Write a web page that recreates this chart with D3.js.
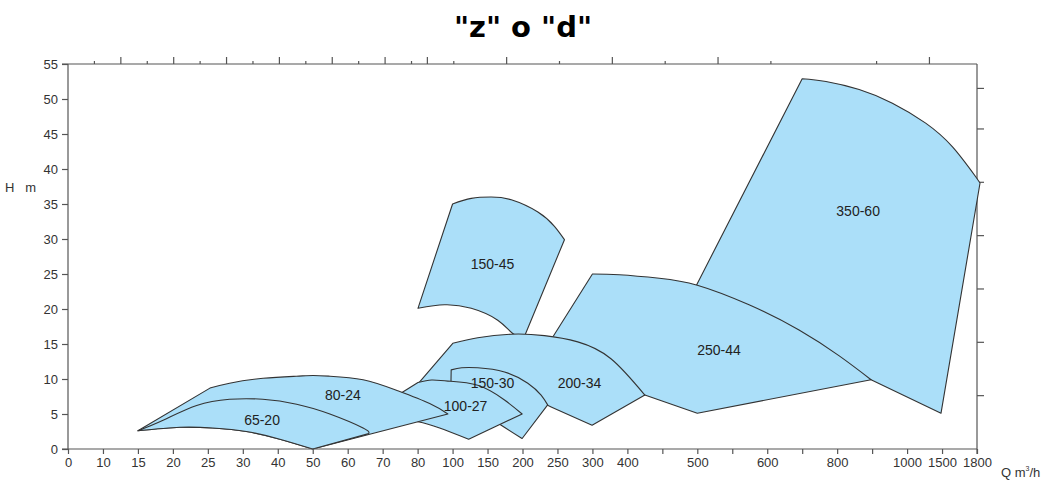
<!DOCTYPE html>
<html><head><meta charset="utf-8">
<script src="https://cdn.jsdelivr.net/npm/d3@7"></script>
<style>body{margin:0;background:#fff;}svg{display:block;}</style>
</head><body>
<svg id="chart" width="1047" height="480"></svg>
<script>
(function(){
// ---------- data ----------
const titleText = '"z" o "d"';
const xTickValues = [0,10,15,20,25,30,40,50,60,70,80,100,150,200,250,300,400,450,500,550,600,700,800,900,1000,1500,1800];
const xTickLabels = ["0","10","15","20","25","30","40","50","60","70","80","100","150","200","250","300","400","","500","","600","","800","","1000","1500","1800"];
const yTickValues = [0,5,10,15,20,25,30,35,40,45,50,55];
const topMinorTicks = [1,3,5,7,9,11,13,14.6,18.6,22.6,26.6,30.6];
const topMajorTicks = [2,4,6,8,10,12,13.6,16.6,20.6,24.6,32.6];
const rightTicksFt = [25,50,75,100,125,150,169];

// 65-20
const p6520Top = [[15,2.6],[18.6,4.1],[23.4,6.2],[28.1,7.1],[35.7,7.1],[45.4,6.4],[54.9,5.0],[64.4,3.0],[66,2.2]];
const p6520Right = [[66,2.2],[50,0]];
const p6520Bottom = [[50,0],[40.6,1.4],[31,2.5],[25.7,3.0],[21,3.1],[15,2.6]];
// 80-24
const p8024Left = [[15,2.6],[25.3,8.7]];
const p8024Top = [[25.3,8.7],[28.1,9.4],[35.8,10.1],[45.3,10.4],[50.1,10.5],[54.9,10.4],[64.4,9.9],[73.9,8.4],[86.9,6.5],[97.3,5.0]];
const p8024Right = [[97.3,5.0],[50,0]];
// 100-27
const p10027Left = [[72.6,4.4],[75.3,8.0],[80.2,9.5]];
const p10027Top = [[80.2,9.5],[88,9.85],[97.3,9.7],[136,9.1],[174.3,7.0],[199.5,5.0]];
const p10027Right = [[199.5,5.0],[123,1.4]];
const p10027Bottom = [[123,1.4],[92.6,3.0],[80.2,3.9],[72.6,4.4]];
// 150-30
const p15030Left = [[99,8.3],[99.2,11.3]];
const p15030Top = [[99.2,11.3],[113,11.6],[136,11.6],[174.3,11.0],[207.6,9.4],[226.6,7.7],[236,6.3]];
const p15030Right = [[236,6.3],[199.5,1.5]];
const p15030Bottom = [[199.5,1.5],[169.6,3.4],[140,5.4],[115,7.2],[99,8.3]];
// 200-34
const p20034Left = [[80.2,9.3],[100.3,15.1]];
const p20034Top = [[100.3,15.1],[136,15.9],[184,16.4],[231.4,16.2],[279,15.3],[353,12.9],[425,7.7]];
const p20034Right = [[425,7.7],[299.5,3.4]];
const p20034Bottom = [[299.5,3.4],[241,6.0],[203,7.7],[153,9.0],[98.3,8.7],[80.2,9.3]];
// 150-45
const p15045Left = [[80.2,20.1],[100,35.0]];
const p15045Top = [[100,35.0],[126.7,35.8],[155.3,36.0],[184,35.6],[222,33.85],[245.7,31.8],[260,29.9]];
const p15045Right = [[260,29.9],[202,15.9]];
const p15045Bottom = [[202,15.9],[186,16.5],[164.6,18.4],[126.7,20.1],[95.4,20.6],[80.2,20.1]];
// 250-44
const p25044Left = [[231.4,14.1],[300,25.0]];
const p25044Top = [[300,25.0],[377,24.9],[445.7,24.4],[500,23.4],[574,20.6],[691,17.0],[806,13.3],[897,9.9]];
const p25044Right = [[897,9.9],[500,5.1]];
const p25044Bottom = [[500,5.1],[425,7.7],[320,9.3],[231.4,14.1]];
// 350-60
const p35060Left = [[488,21.3],[700,52.9]];
const p35060Top = [[700,52.9],[768,52.5],[863,51.35],[958,49.4],[1266,46.55],[1588,43.2],[1789,38.9]];
const p35060Right = [[1789,38.9],[1826,38.0],[1485,5.1]];
const p35060Bottom = [[1485,5.1],[897,9.9],[574,15.6],[488,21.3]];

const pumpNames = ["350-60","250-44","150-45","200-34","150-30","100-27","80-24","65-20"];
const pumpLabelPos = [[860,34],[531,14.1],[157,26.4],[281.5,9.4],[157,9.4],[118.6,6.1],[58.6,7.7],[35.5,4.1]];

// ---------- layout ----------
const mL = 68, mR = 977, mT = 64, mB = 449;
const svg = d3.select("#chart");

const x = d3.scaleLinear()
  .domain(xTickValues)
  .range(xTickValues.map((d,i) => mL + i*(mR-mL)/(xTickValues.length-1)));
const y = d3.scaleLinear().domain([0,55]).range([mB, mT]);
const xTop = d3.scaleLinear().domain([0,34.4]).range([mL, mR]);
const yRight = d3.scaleLinear().domain([0,55/0.3048]).range([mB, mT]);

const pumpEdges = [
  [[p35060Left,0],[p35060Top,1],[p35060Right,0],[p35060Bottom,0]],
  [[p25044Left,0],[p25044Top,1],[p25044Right,0],[p25044Bottom,0]],
  [[p15045Left,0],[p15045Top,1],[p15045Right,0],[p15045Bottom,1]],
  [[p20034Left,0],[p20034Top,1],[p20034Right,0],[p20034Bottom,1]],
  [[p15030Left,0],[p15030Top,1],[p15030Right,0],[p15030Bottom,1]],
  [[p10027Left,0],[p10027Top,1],[p10027Right,0],[p10027Bottom,1]],
  [[p8024Left,0],[p8024Top,1],[p8024Right,0],[p6520Bottom,1]],
  [[p6520Top,1],[p6520Right,0],[p6520Bottom,1]]
];

function shapePath(edges){
  let d = "";
  edges.forEach(([pts, curved], i) => {
    const gen = d3.line().x(p => x(p[0])).y(p => y(p[1]))
      .curve(curved ? d3.curveNatural : d3.curveLinear);
    let s = gen(pts);
    if (i > 0) s = "L" + s.slice(1);
    d += s;
  });
  return d + "Z";
}

const axisColor = "#555";
const font = "'Liberation Sans', Arial, sans-serif";

// frame (top & right)
svg.append("line").attr("x1", mL-6).attr("x2", mR).attr("y1", mT).attr("y2", mT)
  .attr("stroke", axisColor).attr("stroke-width", 1.2);
svg.append("line").attr("x1", mR).attr("x2", mR).attr("y1", mT).attr("y2", mB + 5)
  .attr("stroke", axisColor).attr("stroke-width", 1.2);

// top ticks
svg.append("g").selectAll("line").data(topMinorTicks).join("line")
  .attr("x1", d => xTop(d)).attr("x2", d => xTop(d)).attr("y1", mT).attr("y2", mT-3)
  .attr("stroke", axisColor).attr("stroke-width", 1.2);
svg.append("g").selectAll("line").data(topMajorTicks).join("line")
  .attr("x1", d => xTop(d)).attr("x2", d => xTop(d)).attr("y1", mT).attr("y2", mT-7)
  .attr("stroke", axisColor).attr("stroke-width", 1.2);
// right ticks (ft)
svg.append("g").selectAll("line").data(rightTicksFt).join("line")
  .attr("x1", mR).attr("x2", mR+7).attr("y1", d => yRight(d)).attr("y2", d => yRight(d))
  .attr("stroke", axisColor).attr("stroke-width", 1.2);

// pumps
svg.append("g").selectAll("path").data(pumpEdges).join("path")
  .attr("d", shapePath)
  .attr("fill", "#abdff9")
  .attr("stroke", "#333")
  .attr("stroke-width", 1.1)
  .attr("stroke-linejoin", "round");

// labels
svg.append("g").selectAll("text").data(pumpNames).join("text")
  .attr("x", (d,i) => x(pumpLabelPos[i][0]))
  .attr("y", (d,i) => y(pumpLabelPos[i][1]))
  .attr("text-anchor", "middle").attr("dominant-baseline", "central")
  .attr("font-family", font).attr("font-size", 14).attr("fill", "#222")
  .text(d => d);

// axes
const xAxis = d3.axisBottom(x).tickValues(xTickValues)
  .tickFormat((d,i) => xTickLabels[i]).tickSize(5).tickSizeOuter(0).tickPadding(4);
const gx = svg.append("g").attr("transform", `translate(0,${mB})`).call(xAxis);
const yAxis = d3.axisLeft(y).tickValues(yTickValues).tickSize(6).tickSizeOuter(0).tickPadding(4);
const gy = svg.append("g").attr("transform", `translate(${mL},0)`).call(yAxis);
[gx, gy].forEach(g => {
  g.selectAll("path").attr("stroke", axisColor).attr("stroke-width", 1.2);
  g.selectAll("line").attr("stroke", axisColor).attr("stroke-width", 1.2);
  g.selectAll("text").attr("font-family", font).attr("font-size", 13).attr("fill", "#333");
});
gy.select("path").attr("d", `M0,${mB}V${mT}`);
gx.select("path").attr("d", `M${mL-6},0H${mR}`);

// axis titles
svg.append("text").attr("x", 5).attr("y", 192)
  .attr("font-family", font).attr("font-size", 13).attr("fill", "#333")
  .attr("xml:space", "preserve").text("H   m");
const qt = svg.append("text").attr("x", 1001).attr("y", 477)
  .attr("font-family", font).attr("font-size", 13).attr("fill", "#333");
qt.append("tspan").text("Q m");
qt.append("tspan").attr("font-size", 7).attr("dy", -6).text("3");
qt.append("tspan").attr("dy", 6).text("/h");

// title
svg.append("text").attr("x", 523).attr("y", 37).attr("text-anchor", "middle")
  .attr("font-family", "'DejaVu Sans', sans-serif").attr("font-weight", "bold")
  .attr("font-size", 29).attr("fill", "#000").text(titleText);
})();
</script>
</body></html>
